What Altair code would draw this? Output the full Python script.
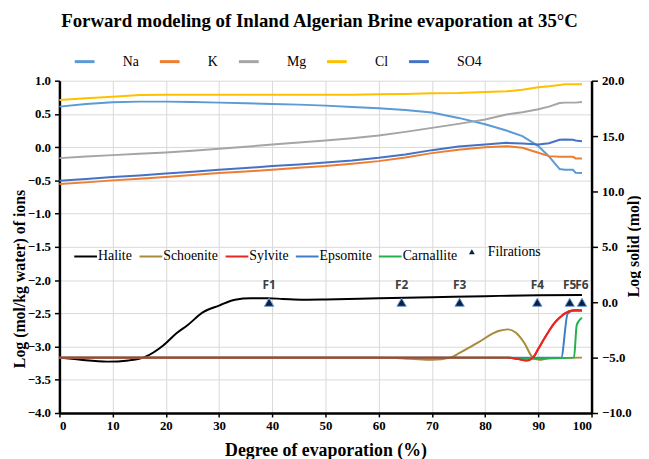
import altair as alt
import pandas as pd

# ---------------- data ----------------
ion_x = [0, 5, 10, 15, 20, 25, 30, 35, 40, 45, 50, 55, 60, 65, 70, 75, 80, 84, 87, 90, 92, 94, 95, 96.5, 97, 98.2]
na  = [0.61, 0.65, 0.675, 0.685, 0.685, 0.68, 0.67, 0.66, 0.65, 0.64, 0.625, 0.605, 0.585, 0.56, 0.52, 0.44, 0.345, 0.25, 0.165, 0.015, -0.14, -0.33, -0.34, -0.34, -0.385, -0.39]
k   = [-0.555, -0.53, -0.50, -0.475, -0.45, -0.42, -0.39, -0.365, -0.34, -0.31, -0.285, -0.25, -0.21, -0.155, -0.09, -0.04, 0.0, 0.015, -0.01, -0.085, -0.135, -0.145, -0.145, -0.145, -0.17, -0.17]
mg  = [-0.165, -0.14, -0.12, -0.10, -0.08, -0.055, -0.025, 0.005, 0.04, 0.07, 0.10, 0.135, 0.175, 0.23, 0.29, 0.35, 0.415, 0.49, 0.525, 0.57, 0.61, 0.665, 0.67, 0.67, 0.67, 0.68]
cl  = [0.71, 0.735, 0.76, 0.785, 0.79, 0.79, 0.79, 0.79, 0.79, 0.79, 0.79, 0.79, 0.795, 0.80, 0.81, 0.815, 0.83, 0.84, 0.865, 0.90, 0.915, 0.935, 0.945, 0.945, 0.945, 0.945]
so4 = [-0.505, -0.48, -0.45, -0.425, -0.395, -0.37, -0.34, -0.315, -0.285, -0.26, -0.23, -0.20, -0.16, -0.11, -0.045, 0.01, 0.04, 0.065, 0.055, 0.04, 0.06, 0.11, 0.115, 0.11, 0.10, 0.09]

ion_names = ["Na", "K", "Mg", "Cl", "SO4"]
ion_colors = ["#5b9bd5", "#ed7d31", "#a5a5a5", "#ffc000", "#4472c4"]

halite_x = [0, 4, 9, 13, 16, 19.5, 22, 24, 27, 30, 33, 36, 39, 42, 46, 50, 60, 70, 80, 90, 98.2]
halite_y = [-5.0, -5.2, -5.36, -5.25, -4.95, -3.9, -2.8, -2.1, -0.9, -0.3, 0.23, 0.36, 0.36, 0.3, 0.23, 0.25, 0.35, 0.45, 0.55, 0.63, 0.65]
schoenite_x = [0, 60, 66, 70, 73.5, 75.1, 78.8, 82.5, 84.3, 85.8, 87.4, 88.8, 90.2, 92, 98.2]
schoenite_y = [-5.0, -5.0, -5.1, -5.2, -5.0, -4.6, -3.6, -2.6, -2.45, -2.75, -3.7, -4.9, -5.2, -5.05, -5.0]
sylvite_x = [0, 84, 86, 87.8, 89, 90, 91.1, 92, 92.9, 94.1, 95.7, 97, 98.2]
sylvite_y = [-5.0, -5.0, -5.1, -5.27, -5.0, -4.2, -3.3, -2.6, -1.95, -1.35, -0.84, -0.72, -0.75]
epsomite_x = [0, 94.3, 95.5, 96.5, 98.2]
epsomite_y = [-5.0, -5.0, -1.05, -0.78, -0.75]
carnallite_x = [0, 85, 86, 88, 90, 92, 96.7, 97.2, 97.6, 98.2]
carnallite_y = [-5.0, -5.0, -5.1, -5.1, -5.1, -5.05, -5.0, -2.1, -1.7, -1.4]

mineral_names = ["Halite", "Schoenite", "Sylvite", "Epsomite", "Carnallite"]
mineral_colors = ["#000000", "#a98a3a", "#e8251f", "#3c7fc4", "#22b14c"]

filt_x = [39.4, 64.3, 75.2, 89.8, 95.9, 98.2]
filt_y = [0, 0, 0, 0, 0, 0]
filt_labels = ["F1", "F2", "F3", "F4", "F5", "F6"]

# ---------------- tables ----------------
rows = []
for name, vals in zip(ion_names, [na, k, mg, cl, so4]):
    for xv, yv in zip(ion_x, vals):
        rows.append({"x": xv, "value": yv, "ion": name})
ions_df = pd.DataFrame(rows)

rows = []
for name, xs, ys in zip(mineral_names,
                        [halite_x, schoenite_x, sylvite_x, epsomite_x, carnallite_x],
                        [halite_y, schoenite_y, sylvite_y, epsomite_y, carnallite_y]):
    for xv, yv in zip(xs, ys):
        rows.append({"x": xv, "value": yv, "mineral": name})
min_df = pd.DataFrame(rows)

filt_df = pd.DataFrame({"x": filt_x, "value": filt_y, "label": filt_labels,
                        "kind": ["Filrations"] * len(filt_x)})

SERIF = "Liberation Serif"

x_enc = alt.X(
    "x:Q",
    scale=alt.Scale(domain=[0, 100], nice=False, zero=False),
    axis=alt.Axis(
        values=list(range(0, 101, 10)), format="d",
        title="Degree of evaporation (%)",
        grid=True, gridColor="#d9d9d9", gridWidth=1,
        domainColor="black", domainWidth=2.5,
        tickColor="black", tickSize=4, tickWidth=1.5,
        labelFont=SERIF, labelFontSize=13, labelFontWeight="bold", labelColor="black",
        labelPadding=3,
        titleFont=SERIF, titleFontSize=18, titleFontWeight="bold", titleColor="black",
        titlePadding=9,
    ),
)

upper = alt.Chart(ions_df).mark_line(strokeWidth=2).encode(
    x=x_enc,
    y=alt.Y(
        "value:Q",
        scale=alt.Scale(domain=[-4, 1], nice=False, zero=False),
        axis=alt.Axis(
            orient="left", values=[-4, -3.5, -3, -2.5, -2, -1.5, -1, -0.5, 0, 0.5, 1],
            format=".1f", title="Log (mol/kg water) of ions",
            grid=True, gridColor="#d9d9d9", gridWidth=1,
            domainColor="black", domainWidth=2.5,
            tickColor="black", tickSize=5, tickWidth=1.5,
            labelFont=SERIF, labelFontSize=13, labelFontWeight="bold", labelColor="black",
            labelPadding=4,
            titleFont=SERIF, titleFontSize=16, titleFontWeight="bold", titleColor="black",
            titleAngle=270, titleX=-40, titleY=200, titleAlign="center", titleBaseline="middle",
        ),
    ),
    color=alt.Color(
        "ion:N",
        scale=alt.Scale(domain=ion_names, range=ion_colors),
        title=None,
        legend=alt.Legend(
            orient="none", legendX=14, legendY=-31, direction="horizontal",
            symbolType="stroke", symbolSize=400,
            symbolStrokeWidth=3, labelOffset=27, columnPadding=14,
            labelFont=SERIF, labelFontSize=14, labelColor="black",
        ),
    ),
)

y_right = alt.Y(
    "value:Q",
    scale=alt.Scale(domain=[-10, 20], nice=False, zero=False),
    axis=alt.Axis(
        orient="right", values=[-10, -5, 0, 5, 10, 15, 20], format=".1f",
        title="Log solid (mol)", grid=False,
        domainColor="black", domainWidth=2.5,
        tickColor="black", tickSize=6, tickWidth=1.5,
        labelFont=SERIF, labelFontSize=13, labelFontWeight="bold", labelColor="black",
        labelPadding=4,
        titleFont=SERIF, titleFontSize=16, titleFontWeight="bold", titleColor="black",
        titleAngle=270, titleX=42, titleY=167, titleAlign="center", titleBaseline="middle",
    ),
)

min_lines = alt.Chart(min_df).mark_line(strokeWidth=2, interpolate="monotone").encode(
    x=x_enc,
    y=y_right,
    color=alt.Color(
        "mineral:N",
        scale=alt.Scale(domain=mineral_names, range=mineral_colors),
        title=None,
        legend=alt.Legend(
            orient="none", legendX=14, legendY=165, direction="horizontal",
            symbolType="stroke", symbolSize=529, symbolStrokeWidth=2,
            labelOffset=0, columnPadding=3,
            labelFont=SERIF, labelFontSize=14, labelColor="black",
        ),
    ),
)

sylvite_top = alt.Chart(min_df).transform_filter(
    alt.datum.mineral == "Sylvite"
).mark_line(strokeWidth=2, color="#e8251f", interpolate="monotone").encode(
    x=x_enc, y=alt.Y("value:Q"))

points = alt.Chart(filt_df).mark_point(
    filled=True, size=90, fill="#0b1f45", stroke="#6a9fd8", strokeWidth=1, opacity=1
).encode(
    x=x_enc,
    y=alt.Y("value:Q"),
    shape=alt.Shape(
        "kind:N",
        scale=alt.Scale(domain=["Filrations"], range=["triangle-up"]),
        title=None,
        legend=alt.Legend(
            orient="none", legendX=410, legendY=166, direction="horizontal",
            symbolSize=35, symbolFillColor="#0b1f45", symbolStrokeColor="#6a9fd8",
            symbolStrokeWidth=1, labelOffset=9,
            labelFont=SERIF, labelFontSize=14, labelColor="black",
        ),
    ),
)

labels = alt.Chart(filt_df).mark_text(
    dy=-17, font="Open Sans", fontWeight="bold", fontSize=12, color="#404040"
).encode(x=x_enc, y=alt.Y("value:Q"), text="label:N")

lower = alt.layer(min_lines, sylvite_top, points, labels)

chart = alt.layer(upper, lower).resolve_scale(
    y="independent", color="independent"
).properties(
    width=538, height=336,
    padding={"left": 52, "top": 71, "right": 50, "bottom": 44},
    autosize=alt.AutoSizeParams(type="none"),
    title=alt.TitleParams(
        "Forward modeling of Inland Algerian Brine evaporation at 35°C",
        font=SERIF, fontSize=19, fontWeight="bold", color="black",
        anchor="middle", frame="group", offset=19, dx=-6,
    ),
).configure_view(stroke=None)

chart.save("out.html", embed_options={"renderer": "svg", "actions": False})
